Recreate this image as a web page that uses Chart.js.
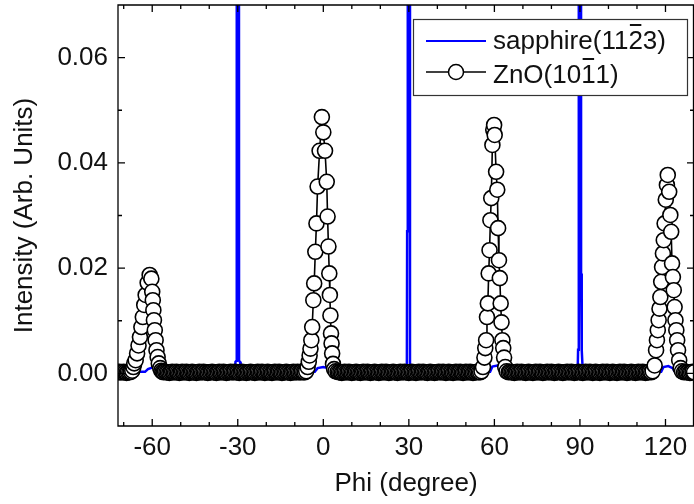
<!DOCTYPE html>
<html>
<head>
<meta charset="utf-8">
<script src="https://cdn.jsdelivr.net/npm/chart.js@4/dist/chart.umd.min.js"></script>
<style>
html,body{margin:0;padding:0;background:#fff;}
#wrap{width:694px;height:504px;}
</style>
</head>
<body>
<div id="wrap"><canvas id="c" width="694" height="504"></canvas></div>
<script>
// ---------- tick labels ----------
const xMajorTicks = [-60, -30, 0, 30, 60, 90, 120];
const xMinorTicks = [-70, -50, -40, -20, -10, 10, 20, 40, 50, 70, 80, 100, 110];
const yMajorTicks = [0, 0.02, 0.04, 0.06];
const yMinorTicks = [0.01, 0.03, 0.05];
const xTitle = 'Phi (degree)';
const yTitle = 'Intensity (Arb. Units)';
const seriesNames = ['sapphire(11\u03052\u03053)', 'ZnO(101\u03051)'];
const legendParts = [['sapphire(11', '2', '3)'], ['ZnO(10', '1', '1)']];

// ---------- sapphire (11-23) ----------
const sapphirePhi = [-72, -66, -62.5, -61.5, -60, -58.5, -57.5, -50, -40, -31.0, -30.8, -30.45, -30.35, -29.65, -29.55, -29.2, -29.0,
  -20, -10, -3, -2, 0, 1.5, 2.5, 10, 20, 29.3, 29.4, 29.6, 29.65, 30.35, 30.4, 30.7,
  40, 50, 58.5, 59.3, 61, 62.5, 63.3, 70, 80, 89.2, 89.35, 89.55, 89.65, 90.35, 90.4, 90.55, 90.7, 91.0,
  100, 110, 118.5, 119.3, 121, 122.5, 123.3, 130];
const sapphireI = [0.0003, 0.0003, 0.0003, 0.0008, 0.0011, 0.0008, 0.0003, 0.0003, 0.0003, 0.0003, 0.0022, 0.0024, 0.25, 0.25, 0.0024, 0.0022, 0.0003,
  0.0003, 0.0003, 0.0003, 0.0010, 0.0012, 0.0010, 0.0003, 0.0003, 0.0003, 0.0003, 0.027, 0.027, 0.25, 0.25, 0.0015, 0.0003,
  0.0003, 0.0003, 0.0003, 0.0013, 0.0015, 0.0012, 0.0003, 0.0003, 0.0003, 0.0003, 0.0045, 0.0070, 0.25, 0.25, 0.019, 0.019, 0.0045, 0.0003,
  0.0003, 0.0003, 0.0003, 0.0012, 0.0014, 0.0010, 0.0003, 0.0003];

// ---------- ZnO (10-11) ----------
const znoBaseAPhi = [-72, -71.5, -71, -70.5, -70, -69.5, -69, -68.5];
const znoBaseAI = [0.0002, 0.0003, 0.0002, 0.0002, 0.0003, 0.0002, 0.0001, 0.0002];

const znoPeakM60Phi = [-68.0, -67.5, -67.0, -66.6, -66.3, -65.8, -65.3, -64.8, -64.3, -63.8, -63.3, -62.8, -62.3, -61.6, -60.9,
  -60.3, -60.0, -59.8, -59.6, -59.4, -59.1, -58.8, -58.5, -58.1, -57.7, -57.2, -56.8, -56.4];
const znoPeakM60I = [0.0002, 0.0003, 0.0005, 0.0012, 0.0019, 0.0025, 0.0038, 0.0053, 0.0069, 0.0088, 0.0107, 0.0130, 0.0149, 0.0172, 0.0187,
  0.0180, 0.0155, 0.0139, 0.0120, 0.0101, 0.0082, 0.0063, 0.0044, 0.0031, 0.0019, 0.0010, 0.0005, 0.0003];

const znoBaseBPhi = [
  -56, -55.5, -55, -54.5, -54, -53.5, -53, -52.5, -52, -51.5,
  -51, -50.5, -50, -49.5, -49, -48.5, -48, -47.5, -47, -46.5,
  -46, -45.5, -45, -44.5, -44, -43.5, -43, -42.5, -42, -41.5,
  -41, -40.5, -40, -39.5, -39, -38.5, -38, -37.5, -37, -36.5,
  -36, -35.5, -35, -34.5, -34, -33.5, -33, -32.5, -32, -31.5,
  -31, -30.5, -30, -29.5, -29, -28.5, -28, -27.5, -27, -26.5,
  -26, -25.5, -25, -24.5, -24, -23.5, -23, -22.5, -22, -21.5,
  -21, -20.5, -20, -19.5, -19, -18.5, -18, -17.5, -17, -16.5,
  -16, -15.5, -15, -14.5, -14, -13.5, -13, -12.5, -12, -11.5,
  -11, -10.5, -10, -9.5, -9, -8.5, -8, -7.5, -7];
const znoBaseBI = [
  0.0002, 0.0003, 0.0002, 0.0002, 0.0001, 0.0002, 0.0003, 0.0002, 0.0002, 0.0003,
  0.0002, 0.0001, 0.0002, 0.0003, 0.0002, 0.0002, 0.0003, 0.0002, 0.0001, 0.0002,
  0.0003, 0.0002, 0.0002, 0.0001, 0.0002, 0.0003, 0.0002, 0.0002, 0.0003, 0.0002,
  0.0002, 0.0001, 0.0002, 0.0002, 0.0003, 0.0002, 0.0002, 0.0001, 0.0002, 0.0003,
  0.0002, 0.0002, 0.0003, 0.0002, 0.0001, 0.0002, 0.0002, 0.0003, 0.0002, 0.0002,
  0.0003, 0.0002, 0.0002, 0.0001, 0.0002, 0.0003, 0.0002, 0.0002, 0.0001, 0.0002,
  0.0002, 0.0003, 0.0002, 0.0002, 0.0001, 0.0002, 0.0003, 0.0002, 0.0002, 0.0003,
  0.0002, 0.0001, 0.0002, 0.0003, 0.0002, 0.0002, 0.0001, 0.0002, 0.0003, 0.0002,
  0.0002, 0.0003, 0.0002, 0.0001, 0.0002, 0.0002, 0.0003, 0.0002, 0.0002, 0.0001,
  0.0002, 0.0003, 0.0002, 0.0002, 0.0003, 0.0002, 0.0002, 0.0003, 0.0002];

const znoPeak0Phi = [-6.5, -6.0, -5.5, -5.1, -4.8, -4.5, -4.2, -3.9, -3.5, -3.2, -2.8, -2.4, -2.0, -1.3, -0.5,
  0.0, 0.6, 1.2, 1.5, 1.8, 2.1, 2.3, 2.5, 2.7, 2.9, 3.1, 3.4, 3.8, 4.3];
const znoPeak0I = [0.0002, 0.0004, 0.0012, 0.0022, 0.0034, 0.0047, 0.0063, 0.0088, 0.0139, 0.0171, 0.0231, 0.0285, 0.0355, 0.0423, 0.0487,
  0.0458, 0.0423, 0.0364, 0.0298, 0.0241, 0.0190, 0.0149, 0.0110, 0.0076, 0.0057, 0.0038, 0.0018, 0.0008, 0.0004];

const znoBaseCPhi = [
  5, 5.5, 6, 6.5, 7, 7.5, 8, 8.5, 9, 9.5,
  10, 10.5, 11, 11.5, 12, 12.5, 13, 13.5, 14, 14.5,
  15, 15.5, 16, 16.5, 17, 17.5, 18, 18.5, 19, 19.5,
  20, 20.5, 21, 21.5, 22, 22.5, 23, 23.5, 24, 24.5,
  25, 25.5, 26, 26.5, 27, 27.5, 28, 28.5, 29, 29.5,
  30, 30.5, 31, 31.5, 32, 32.5, 33, 33.5, 34, 34.5,
  35, 35.5, 36, 36.5, 37, 37.5, 38, 38.5, 39, 39.5,
  40, 40.5, 41, 41.5, 42, 42.5, 43, 43.5, 44, 44.5,
  45, 45.5, 46, 46.5, 47, 47.5, 48, 48.5, 49, 49.5,
  50, 50.5, 51, 51.5, 52, 52.5, 53, 53.5, 54, 54.5,
  55];
const znoBaseCI = [
  0.0003, 0.0002, 0.0002, 0.0001, 0.0002, 0.0003, 0.0002, 0.0002, 0.0003, 0.0002,
  0.0001, 0.0002, 0.0002, 0.0003, 0.0002, 0.0002, 0.0001, 0.0002, 0.0003, 0.0002,
  0.0002, 0.0003, 0.0002, 0.0001, 0.0002, 0.0002, 0.0003, 0.0002, 0.0002, 0.0001,
  0.0002, 0.0003, 0.0002, 0.0002, 0.0003, 0.0002, 0.0001, 0.0002, 0.0002, 0.0003,
  0.0002, 0.0002, 0.0001, 0.0002, 0.0003, 0.0002, 0.0002, 0.0003, 0.0002, 0.0002,
  0.0001, 0.0002, 0.0003, 0.0002, 0.0002, 0.0001, 0.0002, 0.0003, 0.0002, 0.0002,
  0.0003, 0.0002, 0.0002, 0.0001, 0.0002, 0.0003, 0.0002, 0.0002, 0.0001, 0.0002,
  0.0002, 0.0003, 0.0002, 0.0002, 0.0003, 0.0002, 0.0001, 0.0002, 0.0003, 0.0002,
  0.0002, 0.0001, 0.0002, 0.0003, 0.0002, 0.0002, 0.0003, 0.0002, 0.0001, 0.0002,
  0.0003, 0.0002, 0.0002, 0.0003, 0.0002, 0.0001, 0.0002, 0.0002, 0.0003, 0.0002,
  0.0002];

const znoPeak60Phi = [55.5, 56.0, 56.5, 56.8, 57.1, 57.4, 57.7, 58.0, 58.3, 58.6, 58.9, 59.3, 59.6, 59.9,
  60.1, 60.6, 61.0, 61.3, 61.6, 61.9, 62.2, 62.5, 62.8, 63.1, 63.4, 63.8, 64.3];
const znoPeak60I = [0.0004, 0.0012, 0.0030, 0.0048, 0.0063, 0.0107, 0.0133, 0.0190, 0.0234, 0.0291, 0.0333, 0.0434, 0.0463, 0.0472,
  0.0453, 0.0383, 0.0349, 0.0276, 0.0215, 0.0181, 0.0133, 0.0097, 0.0063, 0.0048, 0.0030, 0.0012, 0.0004];

const znoBaseDPhi = [
  65, 65.5, 66, 66.5, 67, 67.5, 68, 68.5, 69, 69.5,
  70, 70.5, 71, 71.5, 72, 72.5, 73, 73.5, 74, 74.5,
  75, 75.5, 76, 76.5, 77, 77.5, 78, 78.5, 79, 79.5,
  80, 80.5, 81, 81.5, 82, 82.5, 83, 83.5, 84, 84.5,
  85, 85.5, 86, 86.5, 87, 87.5, 88, 88.5, 89, 89.5,
  90, 90.5, 91, 91.5, 92, 92.5, 93, 93.5, 94, 94.5,
  95, 95.5, 96, 96.5, 97, 97.5, 98, 98.5, 99, 99.5,
  100, 100.5, 101, 101.5, 102, 102.5, 103, 103.5, 104, 104.5,
  105, 105.5, 106, 106.5, 107, 107.5, 108, 108.5, 109, 109.5,
  110, 110.5, 111, 111.5, 112, 112.5, 113, 113.5, 114, 114.5,
  115];
const znoBaseDI = [
  0.0002, 0.0003, 0.0002, 0.0002, 0.0001, 0.0002, 0.0003, 0.0002, 0.0002, 0.0003,
  0.0002, 0.0002, 0.0001, 0.0002, 0.0003, 0.0002, 0.0002, 0.0001, 0.0002, 0.0003,
  0.0002, 0.0002, 0.0003, 0.0002, 0.0001, 0.0002, 0.0002, 0.0003, 0.0002, 0.0002,
  0.0003, 0.0002, 0.0001, 0.0002, 0.0002, 0.0003, 0.0002, 0.0002, 0.0001, 0.0002,
  0.0002, 0.0003, 0.0002, 0.0002, 0.0003, 0.0002, 0.0001, 0.0002, 0.0002, 0.0003,
  0.0002, 0.0002, 0.0001, 0.0002, 0.0003, 0.0002, 0.0002, 0.0003, 0.0002, 0.0001,
  0.0002, 0.0003, 0.0002, 0.0002, 0.0001, 0.0002, 0.0003, 0.0002, 0.0002, 0.0003,
  0.0002, 0.0001, 0.0002, 0.0003, 0.0002, 0.0002, 0.0001, 0.0002, 0.0003, 0.0002,
  0.0002, 0.0003, 0.0002, 0.0001, 0.0002, 0.0002, 0.0003, 0.0002, 0.0002, 0.0001,
  0.0002, 0.0003, 0.0002, 0.0002, 0.0003, 0.0002, 0.0001, 0.0002, 0.0002, 0.0003,
  0.0002];

const znoPeak120Phi = [115.5, 116.2, 116.7, 117.0, 117.3, 117.6, 117.9, 118.2, 118.5, 118.8, 119.1, 119.4, 119.7, 120.1, 120.5, 120.8,
  121.3, 121.7, 122.0, 122.3, 122.6, 122.9, 123.2, 123.5, 123.8, 124.1, 124.4, 124.8, 125.3, 125.8];
const znoPeak120I = [0.0004, 0.0015, 0.0044, 0.0063, 0.0082, 0.0101, 0.0123, 0.0145, 0.0174, 0.0202, 0.0228, 0.0253, 0.0285, 0.0330, 0.0358, 0.0377,
  0.0345, 0.0301, 0.0269, 0.0209, 0.0183, 0.0158, 0.0126, 0.0101, 0.0082, 0.0063, 0.0044, 0.0025, 0.0010, 0.0004];

const znoBaseEPhi = [126.5, 127, 127.5, 128, 128.5, 129, 129.5, 130, 130.5];
const znoBaseEI = [0.0002, 0.0003, 0.0002, 0.0002, 0.0001, 0.0002, 0.0003, 0.0002, 0.0002];

// ---------- build datasets ----------
const znoPhiSegments = [znoBaseAPhi, znoPeakM60Phi, znoBaseBPhi, znoPeak0Phi, znoBaseCPhi, znoPeak60Phi, znoBaseDPhi, znoPeak120Phi, znoBaseEPhi];
const znoISegments = [znoBaseAI, znoPeakM60I, znoBaseBI, znoPeak0I, znoBaseCI, znoPeak60I, znoBaseDI, znoPeak120I, znoBaseEI];
const znoData = znoPhiSegments.flatMap((seg, k) => seg.map((p, i) => ({x: p, y: znoISegments[k][i]})));
const sapphireData = sapphirePhi.map((p, i) => ({x: p, y: sapphireI[i]}));

const FONT = '"Liberation Sans", Arial, sans-serif';
const BLUE = '#0000ff';

const frameAndLegend = {
  id: 'frameAndLegend',
  afterDatasetsDraw(chart) {
    const {ctx, chartArea: a, scales: {x, y}} = chart;
    ctx.save();
    ctx.strokeStyle = '#000';
    ctx.lineWidth = 1.3;
    ctx.beginPath();
    ctx.rect(a.left, a.top, a.right - a.left - 0.5, a.bottom - a.top);
    const tickX = (v, len) => {
      const p = x.getPixelForValue(v);
      ctx.moveTo(p, a.bottom); ctx.lineTo(p, a.bottom - len);
      ctx.moveTo(p, a.top); ctx.lineTo(p, a.top + len);
    };
    const tickY = (v, len) => {
      const p = y.getPixelForValue(v);
      ctx.moveTo(a.left, p); ctx.lineTo(a.left + len, p);
      ctx.moveTo(a.right, p); ctx.lineTo(a.right - len, p);
    };
    xMajorTicks.forEach(v => tickX(v, 7));
    xMinorTicks.forEach(v => tickX(v, 4));
    yMajorTicks.forEach(v => tickY(v, 7));
    yMinorTicks.forEach(v => tickY(v, 4));
    ctx.stroke();
    ctx.restore();
  },
  afterDraw(chart) {
    const ctx = chart.ctx;
    const L = {left: 413, top: 19, right: 687, bottom: 95};
    ctx.save();
    ctx.fillStyle = '#fff';
    ctx.fillRect(L.left, L.top, L.right - L.left, L.bottom - L.top);
    ctx.strokeStyle = '#333';
    ctx.lineWidth = 1.2;
    ctx.strokeRect(L.left + 0.5, L.top + 0.5, L.right - L.left, L.bottom - L.top);
    const rows = [{ly: 41, base: 49}, {ly: 72, base: 83}];
    ctx.strokeStyle = BLUE; ctx.lineWidth = 2;
    ctx.beginPath(); ctx.moveTo(426, rows[0].ly); ctx.lineTo(486, rows[0].ly); ctx.stroke();
    ctx.strokeStyle = '#000'; ctx.lineWidth = 1.6;
    ctx.beginPath(); ctx.moveTo(426, rows[1].ly); ctx.lineTo(486, rows[1].ly); ctx.stroke();
    ctx.beginPath(); ctx.arc(456, rows[1].ly, 7.5, 0, Math.PI * 2);
    ctx.fillStyle = '#fff'; ctx.fill(); ctx.lineWidth = 1.5; ctx.stroke();
    ctx.font = '26px ' + FONT;
    ctx.fillStyle = '#111';
    ctx.textBaseline = 'alphabetic';
    ctx.textAlign = 'left';
    legendParts.forEach((parts, r) => {
      let tx = 493;
      parts.forEach((s, j) => {
        ctx.fillText(s, tx, rows[r].base);
        const w = ctx.measureText(s).width;
        if (j === 1) {
          ctx.strokeStyle = '#111'; ctx.lineWidth = 2;
          ctx.beginPath(); ctx.moveTo(tx + 1.5, rows[r].base - 24); ctx.lineTo(tx + w - 1.5, rows[r].base - 24); ctx.stroke();
        }
        tx += w;
      });
    });
    ctx.restore();
  }
};

new Chart(document.getElementById('c'), {
  type: 'line',
  data: {
    datasets: [
      {
        label: seriesNames[1],
        data: znoData,
        borderColor: '#000',
        borderWidth: 1.6,
        pointRadius: 7.5,
        pointBackgroundColor: '#fff',
        pointBorderColor: '#000',
        pointBorderWidth: 1.6,
        tension: 0,
        order: 0
      },
      {
        label: seriesNames[0],
        data: sapphireData,
        borderColor: BLUE,
        borderWidth: 2.5,
        pointRadius: 0,
        tension: 0,
        order: 1
      }
    ]
  },
  options: {
    responsive: false,
    animation: false,
    devicePixelRatio: 1,
    layout: {autoPadding: false, padding: {top: 5, right: 0, bottom: 0, left: 0}},
    plugins: {legend: {display: false}, tooltip: {enabled: false}},
    scales: {
      x: {
        type: 'linear',
        min: -72,
        max: 130,
        afterBuildTicks: s => { s.ticks = xMajorTicks.map(v => ({value: v})); },
        afterFit: s => { s.height = 78; s.paddingLeft = 0; s.paddingRight = 0; },
        grid: {display: false, drawTicks: false},
        border: {display: false},
        ticks: {
          color: '#111', padding: 6, maxRotation: 0, autoSkip: false,
          font: {family: FONT, size: 26},
          callback: v => String(v)
        },
        title: {display: true, text: xTitle, color: '#111', font: {family: FONT, size: 26}, padding: {top: 0, bottom: 5}}
      },
      y: {
        type: 'linear',
        min: -0.01,
        max: 0.07,
        afterBuildTicks: s => { s.ticks = yMajorTicks.map(v => ({value: v})); },
        afterFit: s => { s.width = 118; s.paddingTop = 0; s.paddingBottom = 0; },
        grid: {display: false, drawTicks: false},
        border: {display: false},
        ticks: {
          color: '#111', padding: 10,
          font: {family: FONT, size: 26},
          callback: v => Number(v).toFixed(2)
        },
        title: {display: true, text: yTitle, color: '#111', font: {family: FONT, size: 26}, padding: {top: 9, bottom: 0}}
      }
    }
  },
  plugins: [frameAndLegend]
});
</script>
</body>
</html>
